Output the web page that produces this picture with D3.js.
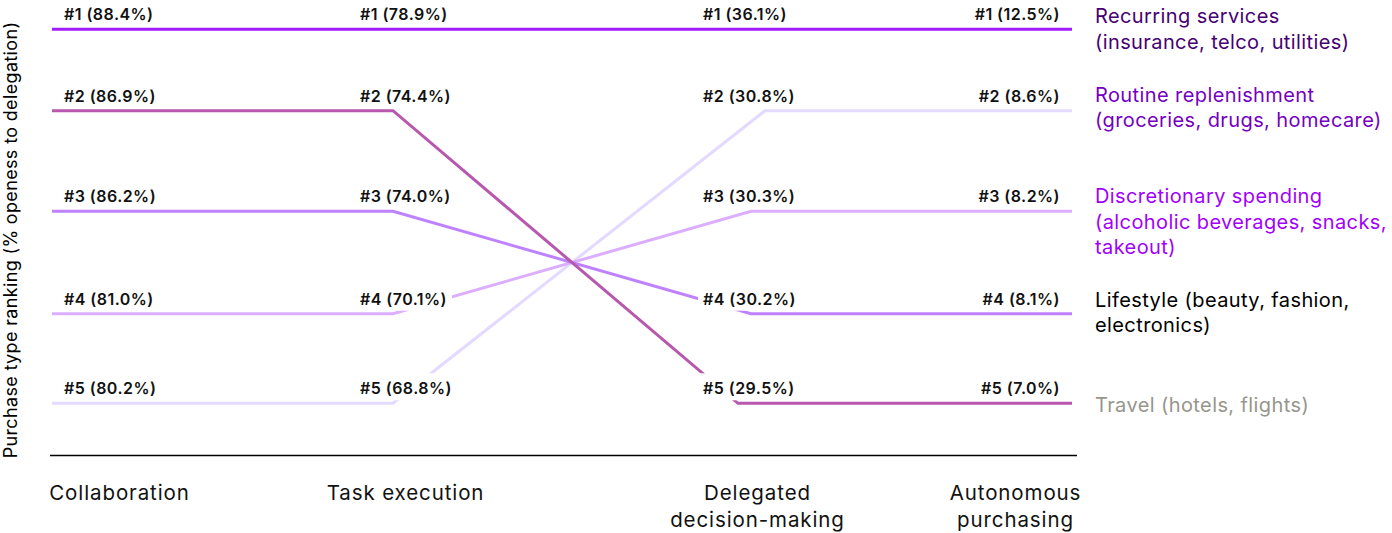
<!DOCTYPE html>
<html>
<head>
<meta charset="utf-8">
<script src="https://cdn.jsdelivr.net/npm/d3@7"></script>
<style>
  html, body { margin: 0; padding: 0; background: #fff; }
  svg { display: block; font-family: Inter, "Noto Sans", sans-serif; }
</style>
</head>
<body>
<svg id="chart" width="1392" height="533"></svg>
<script>
// ---------- DATA ----------
const stages = ["Collaboration", "Task execution", "Delegated decision-making", "Autonomous purchasing"];
const stageLabelLines = [["Collaboration"], ["Task execution"], ["Delegated", "decision-making"], ["Autonomous", "purchasing"]];
const categories = ["Recurring services", "Routine replenishment", "Discretionary spending", "Lifestyle", "Travel"];
const categoryLabelLines = [
  ["Recurring services", "(insurance, telco, utilities)"],
  ["Routine replenishment", "(groceries, drugs, homecare)"],
  ["Discretionary spending", "(alcoholic beverages, snacks,", "takeout)"],
  ["Lifestyle (beauty, fashion,", "electronics)"],
  ["Travel (hotels, flights)"]
];
// % openness to delegation per stage
const recurringValues     = [88.4, 78.9, 36.1, 12.5];
const routineValues       = [80.2, 68.8, 30.8, 8.6];
const discretionaryValues = [81.0, 70.1, 30.3, 8.2];
const lifestyleValues     = [86.2, 74.0, 30.2, 8.1];
const travelValues        = [86.9, 74.4, 29.5, 7.0];
const seriesValues = [recurringValues, routineValues, discretionaryValues, lifestyleValues, travelValues];
const ranks = [1, 2, 3, 4, 5];
const yAxisTitle = "Purchase type ranking (% openess to delegation)";

// ---------- STYLE / LAYOUT ----------
const lineColors  = ["#A21CFA", "#E4D9FF", "#DCAEFF", "#BE82FF", "#B757AE"];
const labelColors = ["#460073", "#7500C0", "#A100FF", "#000000", "#96968C"];
const legendDy    = [-6, -9, -8, -7, 9];

const svg = d3.select("#chart");

const x = d3.scaleOrdinal().domain(stages).range([52, 393, 751, 1072]);
const y = d3.scaleOrdinal().domain(ranks).range([29.3, 110.7, 211.3, 313.7, 403.3]);
const xAxisLabel = d3.scaleOrdinal().domain(stages).range([119, 405, 757, 1015]);
const labelX = d3.scaleOrdinal().domain(stages).range([64, 360, 703, 1060]);
const labelAnchor = ["start", "start", "start", "end"];

// rank of each series at each stage (descending value)
const rankOf = seriesValues.map(() => []);
stages.forEach((s, si) => {
  const order = d3.range(seriesValues.length).sort((a, b) => seriesValues[b][si] - seriesValues[a][si]);
  order.forEach((ci, r) => { rankOf[ci][si] = r + 1; });
});

// crossing point between task execution and delegated decision-making
const cx = (x(stages[1]) + x(stages[2])) / 2;
const cy = (y(3) + y(4)) / 2;

function pathPoints(ci) {
  const r = rankOf[ci];
  const pts = [[x(stages[0]), y(r[0])], [x(stages[1]), y(r[1])]];
  const yA = y(r[1]), yB = y(r[2]);
  if (r[1] !== r[2]) {
    const t = (yB - yA) / (cy - yA);
    const xe = x(stages[1]) + t * (cx - x(stages[1]));
    pts.push([xe, yB]);
  } else {
    pts.push([x(stages[2]), yB]);
  }
  pts.push([x(stages[3]), y(r[3])]);
  return pts;
}

const line = d3.line();

// axis baseline
svg.append("line")
  .attr("x1", 50).attr("x2", 1077)
  .attr("y1", 455.5).attr("y2", 455.5)
  .attr("stroke", "#000").attr("stroke-width", 1.5);

// lines (lighter underneath first, recurring on top)
const drawOrder = [1, 2, 3, 4, 0];
svg.append("g").selectAll("path")
  .data(drawOrder)
  .join("path")
  .attr("d", ci => line(pathPoints(ci)))
  .attr("fill", "none")
  .attr("stroke", ci => lineColors[ci])
  .attr("stroke-width", 3)
  .attr("stroke-linejoin", "miter");

// value labels with white background
const labelData = [];
stages.forEach((s, si) => {
  seriesValues.forEach((vals, ci) => {
    labelData.push({ si, ci, rank: rankOf[ci][si], v: vals[si] });
  });
});
const lg = svg.append("g");
labelData.forEach(d => {
  const g = lg.append("g");
  const rect = g.append("rect").attr("fill", "#fff");
  const t = g.append("text")
    .attr("x", labelX(stages[d.si]))
    .attr("y", y(d.rank) - 9)
    .attr("text-anchor", labelAnchor[d.si])
    .attr("font-size", 16)
    .attr("font-weight", 600)
    .attr("letter-spacing", 0.45)
    .attr("fill", "#111")
    .text(`#${d.rank} (${d.v.toFixed(1)}%)`);
  const bb = t.node().getBBox();
  rect.attr("x", bb.x - 5).attr("width", bb.width + 10)
    .attr("y", y(d.rank) - 30).attr("height", 27);
});

// legend / category labels
const leg = svg.append("g");
categories.forEach((c, ci) => {
  const lastRank = rankOf[ci][3];
  const t = leg.append("text")
    .attr("x", 1095)
    .attr("y", y(lastRank) + legendDy[ci])
    .attr("font-size", 20)
    .attr("letter-spacing", 0.4)
    .attr("fill", labelColors[ci]);
  categoryLabelLines[ci].forEach((ln, i) => {
    t.append("tspan").attr("x", 1095).attr("dy", i === 0 ? 0 : 25.2).text(ln);
  });
});

// x axis labels
const xAxis = d3.axisBottom(xAxisLabel).tickSize(0).tickPadding(0).tickFormat(() => "");
const ax = svg.append("g").attr("transform", "translate(0,500)").call(xAxis);
ax.select(".domain").remove();
ax.selectAll(".tick text").remove();
ax.selectAll(".tick").each(function(d) {
  const si = stages.indexOf(d);
  const t = d3.select(this).append("text")
    .attr("text-anchor", "middle")
    .attr("font-size", 20.5)
    .attr("letter-spacing", 0.9)
    .attr("fill", "#111")
    .attr("font-family", "Inter, 'Noto Sans', sans-serif");
  stageLabelLines[si].forEach((ln, i) => {
    t.append("tspan").attr("x", 0).attr("y", i * 26.5).text(ln);
  });
});

// y axis title
svg.append("text")
  .attr("transform", "translate(17,240) rotate(-90)")
  .attr("text-anchor", "middle")
  .attr("font-size", 18)
  .attr("letter-spacing", 0.35)
  .attr("fill", "#000")
  .text(yAxisTitle);
</script>
</body>
</html>
